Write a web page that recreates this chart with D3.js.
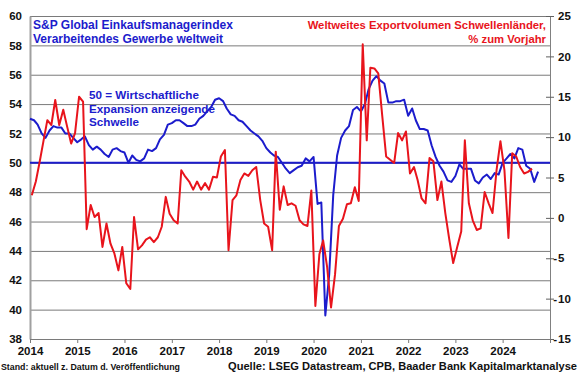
<!DOCTYPE html>
<html>
<head>
<meta charset="utf-8">
<script src="https://cdn.jsdelivr.net/npm/d3@7"></script>
<style>
  body { margin: 0; background: #fff; }
  svg text { font-family: "Liberation Sans", Arial, sans-serif; font-weight: bold; }
</style>
</head>
<body>
<div id="chart"></div>
<script>
// PMI (left axis), monthly from Jan 2014
const pmiStart = new Date(2014, 0, 1);
const pmiValues = [
  53.0, 52.9, 52.6, 52.0, 51.7, 52.2, 52.5, 52.4, 52.4, 52.0, 52.0, 51.7,
  51.4, 51.6, 51.8, 51.2, 50.9, 51.1, 50.9, 50.6, 50.4, 50.9, 51.0, 50.8,
  50.7, 50.0, 50.5, 50.2, 50.1, 50.3, 50.9, 50.8, 51.0, 51.6, 51.9, 52.6,
  52.7, 52.9, 52.9, 52.7, 52.5, 52.5, 52.6, 53.0, 53.2, 53.5, 53.8, 54.3,
  54.4, 54.2, 53.7, 53.3, 53.2, 52.9, 52.8, 52.5, 52.2, 52.0, 51.8, 51.5,
  51.0, 50.7, 50.5, 50.4, 50.0, 49.6, 49.3, 49.5, 49.7, 49.8, 50.3, 50.1,
  50.4, 47.2, 47.3, 39.6, 42.4, 47.8, 50.5, 51.7, 52.2, 52.5, 53.6, 53.8,
  53.5, 54.0, 55.0, 55.6, 55.9, 55.6, 55.4, 54.1, 54.1, 54.2, 54.2, 54.3,
  53.2, 53.7, 52.9, 52.3, 52.3, 52.2, 51.2, 50.4, 49.8, 49.4, 48.8, 48.7,
  49.1, 49.9, 49.6, 49.6, 49.6, 48.8, 48.6, 49.0, 49.2, 48.9, 49.3, 49.2,
  50.0, 50.3, 50.6, 50.3, 51.0, 50.9, 49.8, 49.6, 48.7, 49.4
];

// Export volume emerging markets, % yoy (right axis), monthly from Jan 2014
const exportStart = new Date(2014, 0, 15);
const exportValues = [
  2.8, 4.5, 6.8, 9.5, 12.1, 11.5, 14.6, 11.5, 13.4, 11.3, 9.2, 10.5,
  15.0, 14.4, -1.4, 1.6, 0.1, 0.6, -3.6, -0.7, -3.2, -4.4, -6.5, -3.6,
  -8.1, -8.8, 0.1, -3.9, -3.4, -2.7, -2.4, -3.0, -2.4, -1.1, 2.6, 0.5,
  -0.3, -0.7, 5.9, 5.1, 4.5, 3.5, 4.5, 3.5, 4.3, 3.5, 5.1, 5.0,
  7.6, 8.4, -4.0, 2.2, 2.8, 4.7, 5.5, 5.2, 5.9, 6.3, 2.2, -0.7,
  -1.1, -4.0, 8.2, 1.0, 3.9, 1.6, 1.8, 1.5, -0.3, -0.8, -1.0, 3.4,
  -10.9, -4.5, -2.8, -6.1, -11.1, -7.0, -1.0, -0.1, 1.7, 1.8, 3.8, 2.1,
  21.5, 9.6, 18.6, 18.5, 17.9, 12.6, 7.6, 7.2, 6.8, 10.5, 9.6, 10.7,
  5.5, 6.3, 4.7, 2.4, 1.8, 7.4, 7.0, 2.2, 4.5, 0.6, -2.7, -5.6,
  -3.6, -1.7, 9.6, 1.8, -0.3, -1.5, -1.3, 3.2, 1.8, 0.6, 5.9, 9.5,
  5.9, -2.5, 8.0, 7.6, 6.3, 5.5, 5.7, 6.1
];

const threshold = 50;
const leftTicks = [38, 40, 42, 44, 46, 48, 50, 52, 54, 56, 58, 60];
const rightTicks = [-15, -10, -5, 0, 5, 10, 15, 20, 25];
const yearTicks = [2014, 2015, 2016, 2017, 2018, 2019, 2020, 2021, 2022, 2023, 2024];

const blue = "#1c1ccc";
const red = "#e8141c";

const W = 580, H = 375;
const plot = { left: 30, right: 550, top: 16, bottom: 339 };

const svg = d3.select("#chart").append("svg")
  .attr("width", W)
  .attr("height", H);

// Scales
const x = d3.scaleTime()
  .domain([new Date(2014, 0, 1), new Date(2025, 0, 1)])
  .range([plot.left, plot.right]);
const yL = d3.scaleLinear().domain([38, 60]).range([plot.bottom, plot.top]);
const yR = d3.scaleLinear().domain([-15, 25]).range([plot.bottom, plot.top]);

const pmiData = pmiValues.map((v, i) => ({ date: d3.timeMonth.offset(pmiStart, i), value: v }));
const exportData = exportValues.map((v, i) => ({ date: d3.timeMonth.offset(exportStart, i), value: v }));

// Horizontal gridlines
svg.append("g")
  .attr("transform", "translate(" + plot.left + ",0)")
  .call(d3.axisLeft(yL).tickValues(leftTicks).tickSize(-(plot.right - plot.left)).tickFormat(""))
  .call(g => g.select(".domain").remove())
  .call(g => g.selectAll("line").attr("stroke", "#7a7a7a").attr("stroke-width", 1));

// Left axis
svg.append("g")
  .attr("transform", "translate(" + plot.left + ",0)")
  .call(d3.axisLeft(yL).tickValues(leftTicks).tickSize(0).tickPadding(8))
  .call(g => g.select(".domain").attr("stroke", "#a0a0a0").attr("stroke-width", 2))
  .call(g => g.selectAll("text").attr("fill", "#111").style("font-size", "11.5px"));

// Right axis
const right = svg.append("g")
  .attr("transform", "translate(" + plot.right + ",0)")
  .call(d3.axisRight(yR).tickValues(rightTicks).tickSize(4).tickFormat(d => Math.abs(d)).tickPadding(4))
  .call(g => g.select(".domain").attr("stroke", "#808080"))
  .call(g => g.selectAll(".tick line").attr("x1", -4).attr("stroke", "#606060"))
  .call(g => g.selectAll("text").attr("fill", "#111").style("font-size", "11.5px").attr("x", 8));
right.selectAll(".tick").filter(d => d < 0).append("text")
  .attr("x", 7)
  .attr("dy", "0.32em")
  .attr("text-anchor", "end")
  .attr("fill", "#111")
  .style("font-size", "11.5px")
  .text("-");

// Bottom axis
svg.append("g")
  .attr("transform", "translate(0," + plot.bottom + ")")
  .call(d3.axisBottom(x).tickValues(yearTicks.map(y => new Date(y, 0, 1))).tickSize(4).tickPadding(4)
    .tickFormat(d3.timeFormat("%Y")))
  .call(g => g.select(".domain").attr("stroke", "#7a7a7a"))
  .call(g => g.selectAll(".tick line").attr("stroke", "#7a7a7a"))
  .call(g => g.selectAll("text").attr("fill", "#111").style("font-size", "11.5px"));

// Threshold line at 50
svg.append("line")
  .attr("x1", plot.left).attr("x2", plot.right)
  .attr("y1", yL(threshold)).attr("y2", yL(threshold))
  .attr("stroke", blue)
  .attr("stroke-width", 2);

// Lines
const pmiLine = d3.line().x(d => x(d.date)).y(d => yL(d.value));
const exportLine = d3.line().x(d => x(d.date)).y(d => yR(d.value));

svg.append("path")
  .datum(pmiData)
  .attr("fill", "none")
  .attr("stroke", blue)
  .attr("stroke-width", 2)
  .attr("stroke-linejoin", "round")
  .attr("d", pmiLine);

svg.append("path")
  .datum(exportData)
  .attr("fill", "none")
  .attr("stroke", red)
  .attr("stroke-width", 2)
  .attr("stroke-linejoin", "round")
  .attr("d", exportLine);

// Annotations
const note = (lines, xPos, yPos, color, anchor, size, lh) => {
  const t = svg.append("text")
    .attr("fill", color)
    .attr("text-anchor", anchor)
    .style("font-size", size + "px");
  lines.forEach((s, i) => t.append("tspan").attr("x", xPos).attr("y", yPos + i * lh).text(s));
};

note(["S&P Global Einkaufsmanagerindex", "Verarbeitendes Gewerbe weltweit"], 33, 29, blue, "start", 12, 13.5);
note(["Weltweites Exportvolumen Schwellenländer,", "% zum Vorjahr"], 546, 29, red, "end", 11.3, 13.5);
note(["50 = Wirtschaftliche", "Expansion anzeigende", "Schwelle"], 89, 99, blue, "start", 11.7, 13.5);
note(["Stand: aktuell z. Datum d. Veröffentlichung"], 1, 370, "#111", "start", 8.8, 10);
note(["Quelle: LSEG Datastream, CPB, Baader Bank Kapitalmarktanalyse"], 577, 370, "#111", "end", 11.1, 12);
</script>
</body>
</html>
